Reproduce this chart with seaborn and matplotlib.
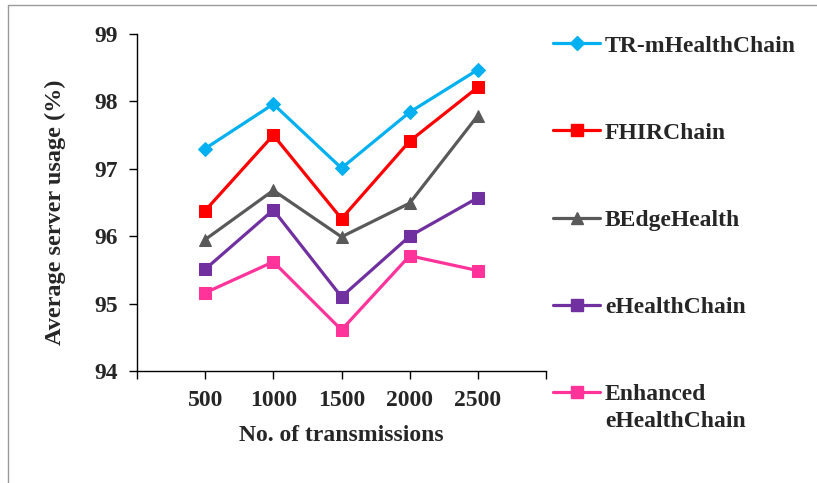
import matplotlib
matplotlib.use("Agg")
import numpy as np
import pandas as pd
import seaborn as sns
import matplotlib.pyplot as plt
from matplotlib.lines import Line2D

# ---- data ----
transmissions = ["500", "1000", "1500", "2000", "2500"]
tr_mhealthchain = [97.30, 97.96, 97.01, 97.84, 98.47]
fhirchain = [96.38, 97.50, 96.26, 97.41, 98.21]
bedgehealth = [95.95, 96.68, 95.99, 96.49, 97.79]
ehealthchain = [95.51, 96.39, 95.10, 96.00, 96.57]
enhanced_ehealthchain = [95.16, 95.62, 94.61, 95.71, 95.49]
series_names = ["TR-mHealthChain", "FHIRChain", "BEdgeHealth", "eHealthChain",
                "Enhanced eHealthChain"]
y_ticks = [94, 95, 96, 97, 98, 99]

colors = ["#00B0F0", "#FF0000", "#595959", "#7030A0", "#FF3399"]
markers = ["D", "s", "^", "s", "s"]
msizes = [7.5, 9, 9, 9, 9]

sns.set_theme(style="white")
plt.rcParams["font.family"] = ["Liberation Serif", "DejaVu Serif"]
plt.rcParams["font.weight"] = "bold"

rows = []
for name, vals in zip(series_names,
                      [tr_mhealthchain, fhirchain, bedgehealth, ehealthchain,
                       enhanced_ehealthchain]):
    for t, v in zip(transmissions, vals):
        rows.append({"transmissions": t, "usage": v, "series": name})
df = pd.DataFrame(rows)

fig = plt.figure(figsize=(8.17, 4.83), dpi=100)
ax = fig.add_axes([137 / 817, 1 - 371 / 483, (546 - 137) / 817, (371 - 34) / 483])

for name, col, mk, ms in zip(series_names, colors, markers, msizes):
    sub = df[df["series"] == name]
    sns.lineplot(data=sub, x="transmissions", y="usage", ax=ax, color=col,
                 marker=mk, markersize=ms, markeredgecolor=col, linewidth=2.3,
                 label=name, sort=False)

ax.set_xlim(-1, 5)
ax.set_xticks(range(-1, 6))
ax.set_xticklabels([""] + transmissions + [""])
ax.set_ylim(94, 99)
ax.set_yticks(y_ticks)
ax.set_yticklabels([str(v) for v in y_ticks])
for s in ["top", "right"]:
    ax.spines[s].set_visible(False)
for s in ["left", "bottom"]:
    ax.spines[s].set_color("black")
    ax.spines[s].set_linewidth(1.0)
ax.tick_params(axis="both", direction="out", length=6, width=1, color="black",
               labelsize=17, pad=8, bottom=True, left=True)
for lab in ax.get_xticklabels() + ax.get_yticklabels():
    lab.set_fontweight("bold")
ax.set_xlabel("No. of transmissions", fontsize=17, fontweight="bold", labelpad=10)
ax.set_ylabel("Average server usage (%)", fontsize=17.5, fontweight="bold",
              va="center")
ax.yaxis.set_label_coords(-0.2, 0.47)

# legend
handles = [Line2D([], [], color=c, marker=m, markersize=s, markeredgecolor=c,
                  linewidth=2.3) for c, m, s in zip(colors, markers, msizes)]
labels = series_names[:-1] + ["Enhanced"]
if ax.get_legend():
    ax.get_legend().remove()
leg = fig.legend(handles, labels, loc="upper left",
                 bbox_to_anchor=(553 / 817, 1 - 35 / 483), frameon=False,
                 prop={"family": "Liberation Serif", "weight": "bold", "size": 17},
                 labelspacing=2.78, handlelength=2.0, handletextpad=0.2,
                 borderaxespad=0, borderpad=0)
fig.canvas.draw()
last = leg.get_texts()[-1]
bb = last.get_window_extent()
inv = fig.transFigure.inverted()
x0, y0 = inv.transform((bb.x0, bb.y0))
fig.text(x0, y0 - 6 / 483, "eHealthChain", ha="left", va="top",
         fontsize=17, fontweight="bold", family="Liberation Serif")

# outer border lines (top and left)
fig.add_artist(Line2D([8 / 817, 1], [1 - 5 / 483, 1 - 5 / 483],
                      transform=fig.transFigure, color="#9a9a9a", linewidth=1))
fig.add_artist(Line2D([8 / 817, 8 / 817], [0, 1 - 5 / 483],
                      transform=fig.transFigure, color="#9a9a9a", linewidth=1))

fig.savefig("out.png", dpi=100)
